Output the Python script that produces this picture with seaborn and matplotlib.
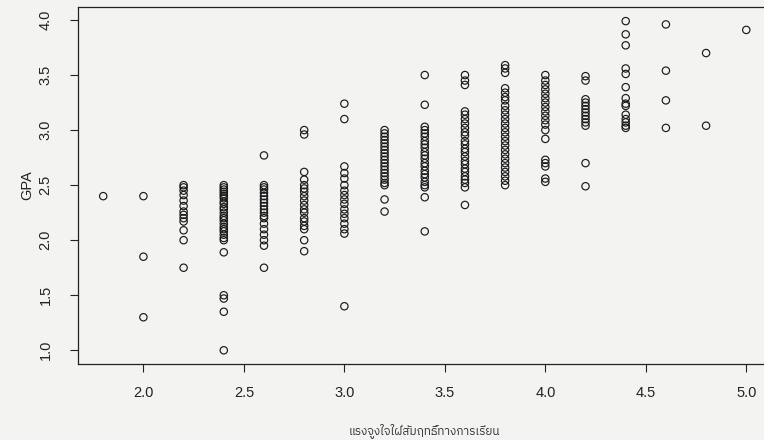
import matplotlib
matplotlib.use("Agg")
import matplotlib.pyplot as plt
import seaborn as sns
import pandas as pd
from matplotlib import font_manager
from matplotlib.ft2font import FT2Font

# ---- data: GPA values observed at each motivation score ----
motivation_levels = [1.8, 2.0, 2.2, 2.4, 2.6, 2.8, 3.0, 3.2, 3.4, 3.6, 3.8, 4.0, 4.2, 4.4, 4.6, 4.8, 5.0]

gpa_18 = [2.40]
gpa_20 = [2.40, 1.85, 1.30]
gpa_22 = [2.50, 2.48, 2.45, 2.41, 2.36, 2.31, 2.26, 2.23, 2.20, 2.17, 2.09, 2.00, 1.75]
gpa_24 = [2.50, 2.48, 2.46, 2.44, 2.42, 2.40, 2.38, 2.35, 2.33, 2.30, 2.28, 2.25, 2.22,
          2.20, 2.18, 2.15, 2.12, 2.10, 2.08, 2.05, 2.02, 2.00, 1.89, 1.50, 1.47, 1.35, 1.00]
gpa_26 = [2.77, 2.50, 2.48, 2.46, 2.43, 2.40, 2.37, 2.34, 2.31, 2.28, 2.25, 2.22, 2.20,
          2.15, 2.10, 2.05, 2.00, 1.95, 1.75]
gpa_28 = [3.00, 2.96, 2.62, 2.55, 2.50, 2.47, 2.44, 2.40, 2.36, 2.32, 2.28, 2.25, 2.20,
          2.17, 2.13, 2.10, 2.00, 1.90]
gpa_30 = [3.24, 3.10, 2.67, 2.61, 2.56, 2.50, 2.45, 2.41, 2.37, 2.33, 2.28, 2.24, 2.20,
          2.15, 2.10, 2.06, 1.40]
gpa_32 = [3.00, 2.97, 2.94, 2.91, 2.88, 2.85, 2.82, 2.79, 2.76, 2.73, 2.70, 2.67, 2.64,
          2.61, 2.58, 2.55, 2.52, 2.50, 2.37, 2.26]
gpa_34 = [3.50, 3.23, 3.03, 3.00, 2.97, 2.94, 2.90, 2.87, 2.84, 2.80, 2.77, 2.74, 2.70,
          2.67, 2.63, 2.60, 2.57, 2.53, 2.50, 2.48, 2.39, 2.08]
gpa_36 = [3.50, 3.45, 3.41, 3.17, 3.14, 3.10, 3.06, 3.02, 2.98, 2.95, 2.90, 2.87, 2.83,
          2.80, 2.76, 2.72, 2.69, 2.65, 2.62, 2.58, 2.55, 2.52, 2.48, 2.32]
gpa_38 = [3.59, 3.56, 3.52, 3.38, 3.34, 3.30, 3.27, 3.22, 3.18, 3.14, 3.10, 3.06, 3.02,
          2.98, 2.94, 2.90, 2.86, 2.82, 2.78, 2.74, 2.70, 2.66, 2.62, 2.58, 2.54, 2.50]
gpa_40 = [3.50, 3.45, 3.41, 3.37, 3.33, 3.29, 3.25, 3.21, 3.17, 3.13, 3.09, 3.05, 3.00,
          2.92, 2.73, 2.70, 2.67, 2.56, 2.53]
gpa_42 = [3.49, 3.45, 3.28, 3.25, 3.22, 3.19, 3.16, 3.13, 3.10, 3.07, 3.04, 2.70, 2.49]
gpa_44 = [3.99, 3.87, 3.77, 3.56, 3.51, 3.39, 3.29, 3.24, 3.22, 3.14, 3.10, 3.07, 3.04, 3.02]
gpa_46 = [3.96, 3.54, 3.27, 3.02]
gpa_48 = [3.70, 3.04]
gpa_50 = [3.91]

gpa_groups = [gpa_18, gpa_20, gpa_22, gpa_24, gpa_26, gpa_28, gpa_30, gpa_32, gpa_34,
              gpa_36, gpa_38, gpa_40, gpa_42, gpa_44, gpa_46, gpa_48, gpa_50]

x_ticks = [2.0, 2.5, 3.0, 3.5, 4.0, 4.5, 5.0]
x_tick_labels = ["2.0", "2.5", "3.0", "3.5", "4.0", "4.5", "5.0"]
y_ticks = [1.0, 1.5, 2.0, 2.5, 3.0, 3.5, 4.0]
y_tick_labels = ["1.0", "1.5", "2.0", "2.5", "3.0", "3.5", "4.0"]
x_label = "แรงจูงใจใฝ่สัมฤทธิ์ทางการเรียน"
y_label = "GPA"

rows = []
for lvl, grp in zip(motivation_levels, gpa_groups):
    for g in grp:
        rows.append({"motivation": lvl, "gpa": g})
df = pd.DataFrame(rows)

# ---- fonts ----
def find_family(ch, prefer=("Sans",)):
    found = []
    for f in font_manager.fontManager.ttflist:
        try:
            if ord(ch) in FT2Font(f.fname).get_charmap():
                found.append(f.name)
        except Exception:
            pass
    for p in prefer:
        for n in found:
            if p in n:
                return n
    return found[0] if found else None

sns.set_theme(style="ticks")
base_family = ["Liberation Sans", "DejaVu Sans"]
plt.rcParams["font.family"] = base_family
thai_family = find_family("ร")
label_family = ([thai_family] if thai_family else []) + base_family

bg = "#f3f3f2"
fig = plt.figure(figsize=(7.64, 4.40), dpi=100, facecolor=bg)
ax = fig.add_axes([77.5 / 764, (440 - 363.5) / 440, (772 - 77.5) / 764, (363.5 - 6.8) / 440])
ax.set_facecolor(bg)

sns.scatterplot(data=df, x="motivation", y="gpa", ax=ax, marker="o", s=28,
                facecolors="none", edgecolor="#1a1a1a", linewidth=0.85, legend=False)

ax.set_xlim(1.672, 5.128)
ax.set_ylim(0.88, 4.12)
ax.set_xticks(x_ticks)
ax.set_xticklabels(x_tick_labels)
ax.set_yticks(y_ticks)
ax.set_yticklabels(y_tick_labels, rotation=90, va="center")

for sp in ax.spines.values():
    sp.set_color("#222222")
    sp.set_linewidth(0.9)

ax.tick_params(axis="both", direction="out", length=6, width=0.8, color="#222222",
               labelsize=10.5, labelcolor="#222222")
ax.tick_params(axis="x", pad=10)
ax.tick_params(axis="y", pad=12)

ax.set_xlabel(x_label, fontsize=8.5, color="#333333", family=label_family)
ax.xaxis.set_label_coords((424.5 - 77.5) / 694.5, (363.5 - 423) / 356.7)
ax.set_ylabel(y_label, fontsize=10.5, color="#222222")
ax.yaxis.set_label_coords((34 - 77.5) / 694.5, 0.5)

fig.savefig("out.png", dpi=100, facecolor=bg)
